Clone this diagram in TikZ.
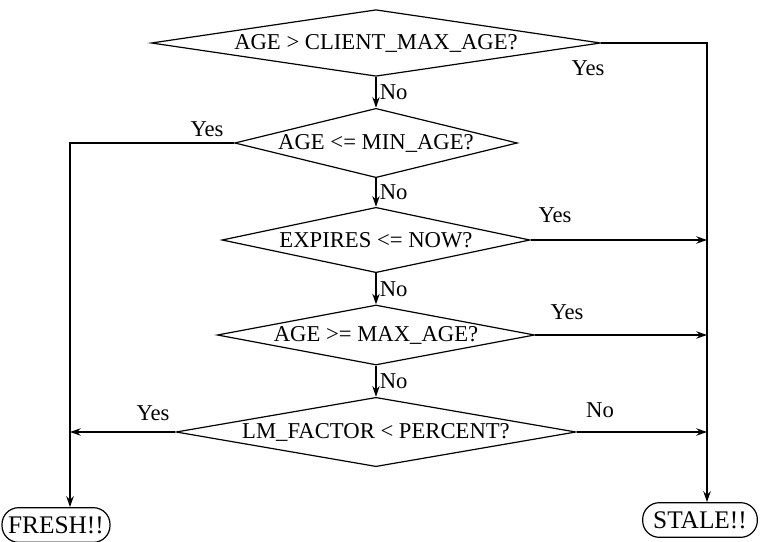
\documentclass[tikz,border=0pt]{standalone}
\usepackage{fontspec}
\setmainfont{Liberation Serif}
\usetikzlibrary{shapes.geometric,arrows.meta,positioning}

\begin{document}
\begin{tikzpicture}[x=0.75pt, y=-0.75pt, >={Stealth[length=8pt,width=5.5pt]},
    every node/.style={font=\fontsize{17}{19}\selectfont},
    check/.style n args={3}{diamond, draw, line width=0.9pt, inner sep=0pt,
      aspect=#3, minimum width=#1, minimum height=#2},
    terminal/.style={draw, line width=0.9pt, rounded corners=12.5pt,
      minimum width=#1, minimum height=26pt, inner sep=1pt,
      font=\fontsize{19}{20}\selectfont},
    flow/.style={->, line width=1.8pt}]

    \useasboundingbox (0,0) rectangle (761,542);

    % --- decisions, top to bottom ---
    \node[check={337pt}{50pt}{7}] (maxage) at (376,43) {AGE > CLIENT\_MAX\_AGE?};
    \node[check={212pt}{52pt}{4}] (minage) at (376,143) {AGE <= MIN\_AGE?};
    \node[check={231pt}{49pt}{4.7}] (expires) at (376,240) {EXPIRES <= NOW?};
    \node[check={238pt}{45pt}{5.3}] (srvmax) at (376,335) {AGE >= MAX\_AGE?};
    \node[check={300pt}{52pt}{5.7}] (lmfactor) at (376,432) {LM\_FACTOR < PERCENT?};

    % --- results ---
    \node[terminal=81pt] (fresh) at (56,525) {FRESH!!};
    \node[terminal=86pt] (stale) at (700,520) {STALE!!};

    % rails down to the results
    \coordinate (leftrail) at (70,143);
    \coordinate (rightrail) at (707,43);

    % --- "No" branches ---
    \draw[flow] (maxage.south) -- node[right, inner sep=2pt] (no1) {No} (minage.north);
    \draw[flow] (minage.south) -- node[right, inner sep=2pt] (no2) {No} (expires.north);
    \draw[flow] (expires.south) -- node[right, inner sep=2pt] (no3) {No} (srvmax.north);
    \draw[flow] (srvmax.south) -- node[right, inner sep=2pt] (no4) {No} (lmfactor.north);

    % --- to STALE ---
    \draw[flow] (maxage.east) -- (rightrail) -- (rightrail |- stale.north);
    \draw[flow] (expires.east) -- (expires.east -| rightrail);
    \draw[flow] (srvmax.east) -- (srvmax.east -| rightrail);
    \draw[flow] (lmfactor.east) -- (lmfactor.east -| rightrail);

    % --- to FRESH ---
    \draw[flow] (minage.west) -- (leftrail) -- (leftrail |- fresh.north);
    \draw[flow] (lmfactor.west) -- (lmfactor.west -| leftrail);

    % branch labels
    \node (yes1) at (588,68) {Yes};
    \node (yes2) at (207,129) {Yes};
    \node (yes3) at (555,215) {Yes};
    \node (yes4) at (567,312) {Yes};
    \node (yes5) at (153,413) {Yes};
    \node (no5) at (600,410) {No};

\end{tikzpicture}
\end{document}
